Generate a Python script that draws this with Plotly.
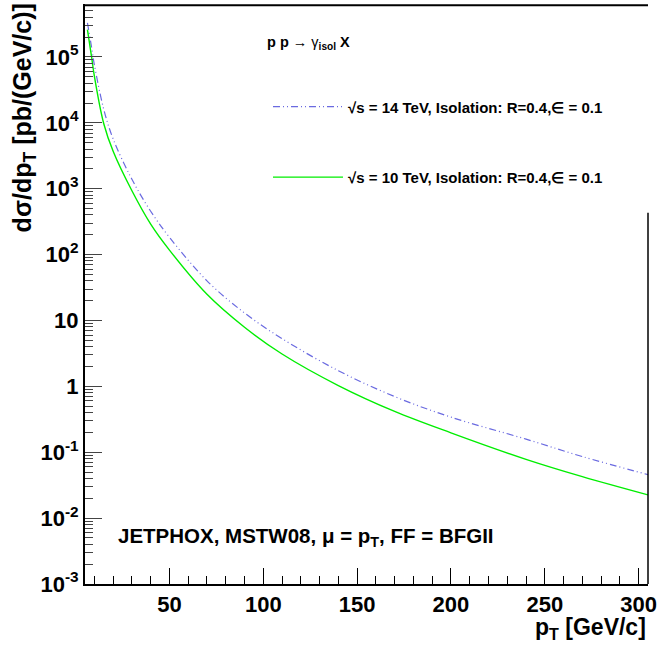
import plotly.graph_objects as go

# p_T grid (GeV/c) and cross sections (pb/(GeV/c))
pt = [6.3, 8.5, 10, 15, 20, 30, 40, 50, 70, 90, 110, 140, 170, 200, 240, 270, 305]
xsec_14 = [3.3e5, 1.4e5, 7.6e4, 1.6e4, 5700, 1390, 455, 183, 40, 13.0, 5.3, 1.73,
           0.70, 0.341, 0.158, 0.086, 0.0457]
xsec_10 = [2.6e5, 1.0e5, 5.1e4, 9.7e3, 3700, 930, 290, 117, 25, 7.9, 3.1, 1.03,
           0.417, 0.197, 0.078, 0.0426, 0.0225]

label_14 = "√s = 14 TeV, Isolation: R=0.4,∈ = 0.1"
label_10 = "√s = 10 TeV, Isolation: R=0.4,∈ = 0.1"

x_ticks = [50, 100, 150, 200, 250, 300]
y_ticks = [1e-3, 1e-2, 1e-1, 1, 10, 1e2, 1e3, 1e4, 1e5]
y_ticktext = ["10<sup>-3</sup>", "10<sup>-2</sup>", "10<sup>-1</sup>", "1", "10",
              "10<sup>2</sup>", "10<sup>3</sup>", "10<sup>4</sup>", "10<sup>5</sup>"]

FONT = "Liberation Sans, Arial, sans-serif"

fig = go.Figure()
fig.add_trace(go.Scatter(
    x=pt, y=xsec_14, mode="lines", name=label_14, legendgroup="a",
    line=dict(color="#6a6ae0", width=1.2, dash="7px,3px,1px,3px,1px,3px", shape="spline")))
fig.add_trace(go.Scatter(
    x=pt, y=xsec_10, mode="lines", name=label_10, legendgroup="b",
    line=dict(color="#00ee00", width=1.4, shape="spline")))

fig.update_layout(
    width=662, height=646, plot_bgcolor="white", paper_bgcolor="white",
    margin=dict(l=85, r=14, t=4, b=62, autoexpand=False),
    font=dict(family=FONT, color="black"),
    showlegend=True,
    legend=dict(x=0.325, y=0.851, xanchor="left", yanchor="top", bgcolor="rgba(0,0,0,0)",
                font=dict(size=15, family=FONT, weight="bold"), itemwidth=70,
                tracegroupgap=48),
    xaxis=dict(range=[5, 305], tickvals=x_ticks, ticks="inside", ticklen=16,
               tickcolor="black", showline=True, linecolor="black", linewidth=2,
               showgrid=False, zeroline=False,
               tickfont=dict(size=22, family=FONT, weight="bold"),
               minor=dict(dtick=10, ticks="inside", ticklen=8, tickcolor="black", showgrid=False)),
    yaxis=dict(type="log", range=[-3, 5.804], tickvals=y_ticks, ticktext=y_ticktext,
               ticks="inside", ticklen=17, tickcolor="#444", showline=True,
               linecolor="black", linewidth=2, showgrid=False, zeroline=False,
               tickfont=dict(size=22, family=FONT, weight="bold"),
               minor=dict(dtick="D1", ticks="inside", ticklen=8, tickcolor="#444", showgrid=False)),
)

# frame: top edge and the lower part of the right edge (legend box hides the rest)
fig.add_shape(type="line", xref="paper", yref="paper", x0=0, x1=1, y0=0.998, y1=0.998,
              line=dict(color="black", width=2), layer="above")
fig.add_shape(type="line", xref="paper", yref="paper", x0=1, x1=1, y0=0, y1=0.64,
              line=dict(color="black", width=1.5))

fig.add_annotation(text="dσ/dp<sub>T</sub> [pb/(GeV/c)]", textangle=-90,
                   xref="paper", yref="paper", x=-0.108, y=1.004, xanchor="center", yanchor="top",
                   showarrow=False, font=dict(size=25, family=FONT, weight="bold"))
fig.add_annotation(text="p<sub>T</sub> [GeV/c]", xref="paper", yref="paper",
                   x=1.0, y=-0.048, xanchor="right", yanchor="top",
                   showarrow=False, font=dict(size=23, family=FONT, weight="bold"))
fig.add_annotation(text="<b>p p</b> → γ<sub><b>isol</b></sub> <b>X</b>", xref="paper", yref="paper",
                   x=0.32, y=0.933, xanchor="left", yanchor="middle",
                   showarrow=False, font=dict(size=14.5, family=FONT))
fig.add_annotation(text="JETPHOX, MSTW08, μ = p<sub>T</sub>, FF = BFGII", xref="paper", yref="paper",
                   x=0.055, y=0.081, xanchor="left", yanchor="middle",
                   showarrow=False, font=dict(size=20.5, family=FONT, weight="bold"))

fig.write_html("out.html", config={"displayModeBar": False},
               post_script="document.body.style.margin='0';")
